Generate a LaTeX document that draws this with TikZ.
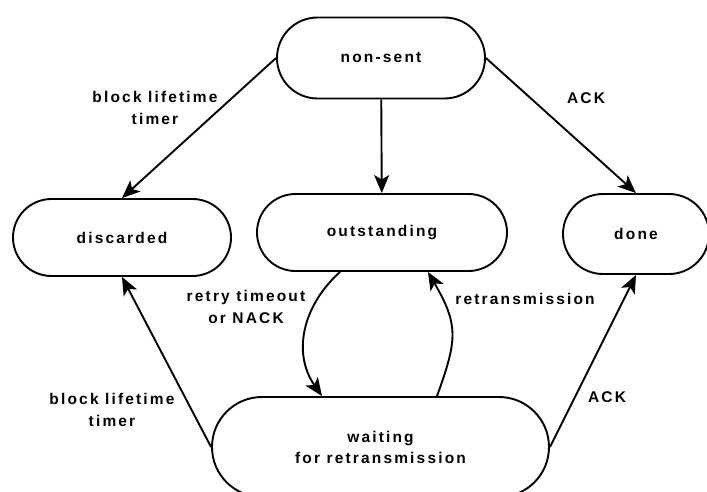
\documentclass[tikz,border=0pt]{standalone}
\usepackage{fontspec}
\setmainfont{Liberation Sans}[LetterSpace=14]
\usepackage{tikz}
\usetikzlibrary{positioning,calc,shapes.misc,arrows.meta}
\newcommand{\stnode}[5]{\node [st, minimum width=#4, minimum height=#5] (#1) at (#2) {#3}}
\newcommand{\lbnode}[3]{\node [lb] (#1) at (#2) {#3}}

\begin{document}
\begin{tikzpicture}[x=1pt, y=1pt,
  st/.style={draw, line width=1.9pt, rounded rectangle, inner sep=0pt,
    font=\fontsize{15.5}{21}\selectfont\bfseries, align=center},
  lb/.style={font=\fontsize{15.5}{22}\selectfont\bfseries, align=center, inner sep=1pt},
  arr/.style={line width=1.9pt, -{Stealth[length=18pt, width=15pt, inset=4.5pt]}}]

\useasboundingbox (0,0) rectangle (707,491);

\stnode{NS}{381,433}{non-sent}{208}{81};
\stnode{DIS}{122,253.5}{discarded}{218}{77};
\stnode{OUT}{382,258.5}{outstanding}{250}{77};
\stnode{DONE}{636,257}{done}{146}{80};
\stnode{WAIT}{380.5,44}{waiting\\for retransmission}{337}{100};

\lbnode{L1}{155,383}{block lifetime\\timer};
\lbnode{L2}{586,393}{ACK};
\lbnode{L3}{246,184.5}{retry timeout\\or NACK};
\lbnode{L4}{525,192}{retransmission};
\lbnode{L5}{112,81}{block lifetime\\timer};
\lbnode{L6}{607,94}{ACK};

\draw[arr] (NS.west) -- (DIS.north);
\draw[arr] (NS) -- (OUT);
\draw[arr] (NS.east) -- (DONE.north);
\draw[arr] ([xshift=-42pt]OUT.south) to[out=222, in=125, looseness=1.05] ([xshift=-58.5pt]WAIT.north);
\draw[arr] ([xshift=56.5pt]WAIT.north) to[out=70, in=-60, looseness=1.25] ([xshift=46pt]OUT.south);
\draw[arr] (WAIT.west) -- (DIS.south);
\draw[arr] (WAIT.east) -- (DONE.south);

\end{tikzpicture}
\end{document}
